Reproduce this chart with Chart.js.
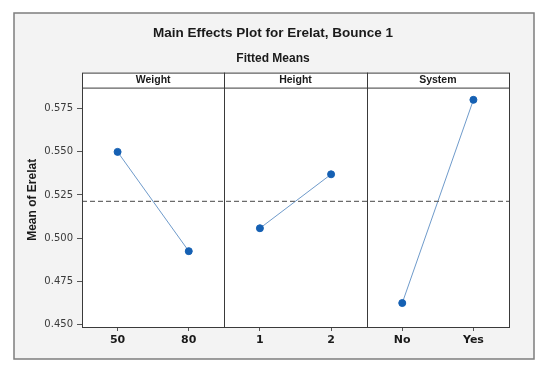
<!DOCTYPE html>
<html>
<head>
<meta charset="utf-8">
<script src="https://cdn.jsdelivr.net/npm/chart.js@4"></script>
<style>
  html, body { margin: 0; padding: 0; background: #ffffff; }
  #wrap { position: relative; width: 550px; height: 373px; }
</style>
</head>
<body>
<div id="wrap"><canvas id="effects"></canvas></div>
<script>
// data
const factors = ['Weight', 'Height', 'System'];
const weightLevels = ['50', '80'];
const heightLevels = ['1', '2'];
const systemLevels = ['No', 'Yes'];
const weightMeans = [0.550, 0.4924];
const heightMeans = [0.5057, 0.5370];
const systemMeans = [0.4623, 0.5802];
const grandMean = 0.5213;
const yTicks = [0.450, 0.475, 0.500, 0.525, 0.550, 0.575];
const yTitle = 'Mean of Erelat';

const levels = [weightLevels, heightLevels, systemLevels];
const means = [weightMeans, heightMeans, systemMeans];
const xLabels = [].concat(...levels);

// each factor gets its own panel 2 units wide, levels sit at .5 and 1.5
const effectSets = means.map((vals, p) => ({
    data: vals.map((v, j) => ({ x: p * 2 + 0.5 + j, y: v })),
    borderColor: '#6f9bcb',
    borderWidth: 1,
    pointBackgroundColor: '#1560b3',
    pointBorderColor: '#1560b3',
    pointRadius: 3.5,
    showLine: true
}));

const meanSet = {
    data: [{ x: 0, y: grandMean }, { x: factors.length * 2, y: grandMean }],
    borderColor: '#6b6b6b',
    borderWidth: 1.2,
    borderDash: [5, 3],
    pointRadius: 0,
    showLine: true
};

// outer grey frame, panel box, header strip, dividers, y title
const panelFrame = {
    id: 'panelFrame',
    beforeDraw(chart) {
        const c = chart.ctx;
        c.save();
        c.fillStyle = '#f3f3f3';
        c.fillRect(14, 13, 520, 346);
        c.strokeStyle = '#7d7d7d';
        c.lineWidth = 1.5;
        c.strokeRect(14, 13, 520, 346);
        const a = chart.chartArea;
        c.fillStyle = '#ffffff';
        c.fillRect(a.left, a.top - 15, a.right - a.left, a.bottom - a.top + 15);
        c.restore();
    },
    afterDraw(chart) {
        const c = chart.ctx;
        const a = chart.chartArea;
        const xs = chart.scales.x;
        const top = a.top - 15;
        c.save();
        c.strokeStyle = '#3a3a3a';
        c.lineWidth = 1;
        c.strokeRect(a.left + 0.5, top + 0.5, a.right - a.left, a.bottom - top);
        c.beginPath();
        c.moveTo(a.left, a.top + 0.5);
        c.lineTo(a.right, a.top + 0.5);
        for (let p = 1; p < factors.length; p++) {
            const x = Math.round(xs.getPixelForValue(p * 2)) + 0.5;
            c.moveTo(x, top);
            c.lineTo(x, a.bottom);
        }
        c.stroke();
        c.fillStyle = '#1a1a1a';
        c.font = 'bold 10.5px "Liberation Sans", Arial, sans-serif';
        c.textAlign = 'center';
        c.textBaseline = 'middle';
        factors.forEach((f, p) => {
            c.fillText(f, xs.getPixelForValue(p * 2 + 1), top + 8);
        });
        // y title centred on panel incl. header strip
        c.font = 'bold 12px "Liberation Sans", Arial, sans-serif';
        c.translate(33, (top + a.bottom) / 2);
        c.rotate(-Math.PI / 2);
        c.fillText(yTitle, 0, 0);
        c.restore();
    }
};

new Chart(document.getElementById('effects'), {
    type: 'scatter',
    data: { datasets: [meanSet, ...effectSets] },
    options: {
        responsive: true,
        maintainAspectRatio: false,
        animation: false,
        events: [],
        layout: { padding: { left: 22, right: 26, top: 14, bottom: 14 } },
        plugins: {
            legend: { display: false },
            tooltip: { enabled: false },
            title: {
                display: true,
                text: 'Main Effects Plot for Erelat, Bounce 1',
                color: '#1a1a1a',
                font: { family: '"Liberation Sans", Arial, sans-serif', size: 13.5, weight: 'bold' },
                padding: { top: 11, bottom: 5 }
            },
            subtitle: {
                display: true,
                text: 'Fitted Means',
                color: '#1a1a1a',
                font: { family: '"Liberation Sans", Arial, sans-serif', size: 12, weight: 'bold' },
                padding: { top: 5, bottom: 22 }
            }
        },
        scales: {
            x: {
                type: 'linear',
                min: 0,
                max: factors.length * 2,
                afterBuildTicks(scale) {
                    scale.ticks = xLabels.map((_, i) => ({ value: i + 0.5 }));
                },
                afterFit(scale) { scale.height = 32; },
                border: { display: false },
                grid: { drawOnChartArea: false, drawTicks: true, tickLength: 4, color: '#555' },
                ticks: {
                    autoSkip: false,
                    maxRotation: 0,
                    padding: 3,
                    color: '#1a1a1a',
                    font: { family: '"DejaVu Sans", Verdana, sans-serif', size: 11, weight: 'bold' },
                    callback: (v, i) => xLabels[i]
                }
            },
            y: {
                min: 0.4484,
                max: 0.5873,
                afterBuildTicks(scale) {
                    scale.ticks = yTicks.map(v => ({ value: v }));
                },
                afterFit(scale) { scale.width = 60; },
                border: { display: false },
                grid: { drawOnChartArea: false, drawTicks: true, tickLength: 5, color: '#555' },
                ticks: {
                    padding: 4,
                    color: '#3a3a3a',
                    font: { family: '"DejaVu Sans", Verdana, sans-serif', size: 10 },
                    callback: v => v.toFixed(3)
                }
            },
            // empty right axis so the titles centre on the whole frame
            yPad: {
                position: 'right',
                min: 0,
                max: 1,
                afterFit(scale) { scale.width = 15; },
                border: { display: false },
                grid: { display: false },
                ticks: { display: false }
            }
        }
    },
    plugins: [panelFrame]
});
</script>
</body>
</html>
